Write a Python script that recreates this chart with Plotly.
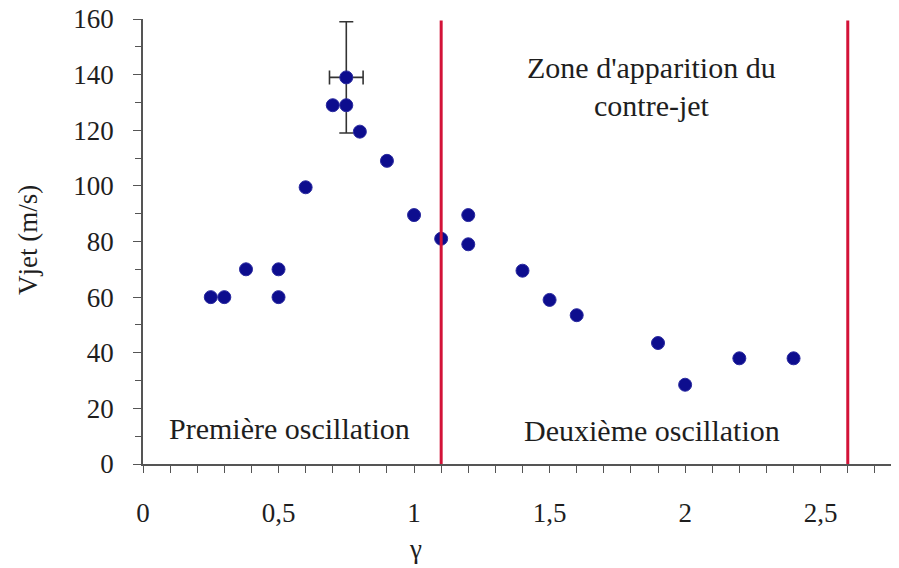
import plotly.graph_objects as go

gamma = [0.25, 0.3, 0.38, 0.5, 0.5, 0.6, 0.7, 0.75, 0.8, 0.9, 1.0, 1.1, 1.2, 1.2,
         1.4, 1.5, 1.6, 1.9, 2.0, 2.2, 2.4]
vjet = [60, 60, 70, 70, 60, 99.5, 129, 129, 119.5, 109, 89.5, 81, 89.5, 79,
        69.5, 59, 53.5, 43.5, 28.5, 38, 38]

err_gamma = [0.75]
err_vjet = [139]
err_dy = [20]
err_dx = [0.062]

zone_limits = [1.1, 2.6]

x_tickvals = [0, 0.5, 1, 1.5, 2, 2.5]
x_ticktext = ["0", "0,5", "1", "1,5", "2", "2,5"]
y_tickvals = [0, 20, 40, 60, 80, 100, 120, 140, 160]

FONT = "Times New Roman, Liberation Serif, serif"
BLUE = "#0d0d8e"
TXT = "#1e1e1e"

fig = go.Figure()

for xv in zone_limits:
    fig.add_shape(type="line", x0=xv, x1=xv, y0=0, y1=159.5, xref="x", yref="y",
                  line=dict(color="#d31238", width=3), layer="above")

fig.add_trace(go.Scatter(
    x=err_gamma, y=err_vjet, mode="markers",
    marker=dict(size=13, color=BLUE, line=dict(color="#2a2aa0", width=1)),
    error_y=dict(type="data", array=err_dy, color="#333333", thickness=1.6, width=7),
    error_x=dict(type="data", array=err_dx, color="#333333", thickness=1.6, width=7),
    showlegend=False, hoverinfo="skip"))

fig.add_trace(go.Scatter(
    x=gamma, y=vjet, mode="markers",
    marker=dict(size=13, color=BLUE, line=dict(color="#2a2aa0", width=1)),
    showlegend=False))

ann_font = dict(family=FONT, size=30, color=TXT)
fig.add_annotation(x=1.876, y=142.5, xref="x", yref="y",
                   text="Zone d'apparition du", showarrow=False, font=ann_font)
fig.add_annotation(x=1.876, y=128.9, xref="x", yref="y",
                   text="contre-jet", showarrow=False, font=ann_font)
fig.add_annotation(x=0.541, y=12.7, xref="x", yref="y",
                   text="Première oscillation", showarrow=False, font=ann_font)
fig.add_annotation(x=1.876, y=12.0, xref="x", yref="y",
                   text="Deuxième oscillation", showarrow=False, font=ann_font)

# axis titles (plot area spans 143..899 px horizontally, 19..464 px vertically)
PLOT_H = 445
fig.add_annotation(x=(415 - 143) / 756, y=(464 - 549) / PLOT_H, xref="paper", yref="paper",
                   xanchor="center", yanchor="middle",
                   text="γ", showarrow=False, font=dict(family=FONT, size=27, color=TXT))
fig.add_annotation(x=(28 - 143) / 756, y=(464 - 240) / PLOT_H, xref="paper", yref="paper",
                   xanchor="center", yanchor="middle",
                   text="Vjet (m/s)", textangle=-90, showarrow=False,
                   font=dict(family=FONT, size=27, color=TXT))

# page body has an 8px margin: figure is 891x560 so it fills the 899x568 window
fig.update_layout(
    width=891, height=560,
    margin=dict(l=135, r=0, t=11, b=104),
    paper_bgcolor="white", plot_bgcolor="white",
    font=dict(family=FONT, size=27, color=TXT),
)

fig.update_xaxes(
    range=[0, 2.789], showgrid=False, zeroline=False, automargin=False,
    showline=True, linecolor="#555555", linewidth=1.5,
    tickmode="array", tickvals=x_tickvals, ticktext=x_ticktext,
    ticks="outside", ticklen=7, tickcolor="#555555", tickwidth=1.2,
    minor=dict(dtick=0.1, ticks="outside", ticklen=7, tickcolor="#555555", tickwidth=1.2, showgrid=False),
    tickfont=dict(family=FONT, size=27, color=TXT),
    ticklabelstandoff=17, ticklabeloverflow="allow",
)

fig.update_yaxes(
    range=[0, 160], showgrid=False, zeroline=False, automargin=False,
    showline=True, linecolor="#555555", linewidth=1.5,
    tickmode="array", tickvals=y_tickvals,
    ticks="outside", ticklen=8, tickcolor="#555555", tickwidth=1.2,
    minor=dict(dtick=10, ticks="outside", ticklen=6, tickcolor="#555555", tickwidth=1.2, showgrid=False),
    tickfont=dict(family=FONT, size=27, color=TXT),
    ticklabelstandoff=14, ticklabeloverflow="allow",
)

fig.write_html("out.html")
